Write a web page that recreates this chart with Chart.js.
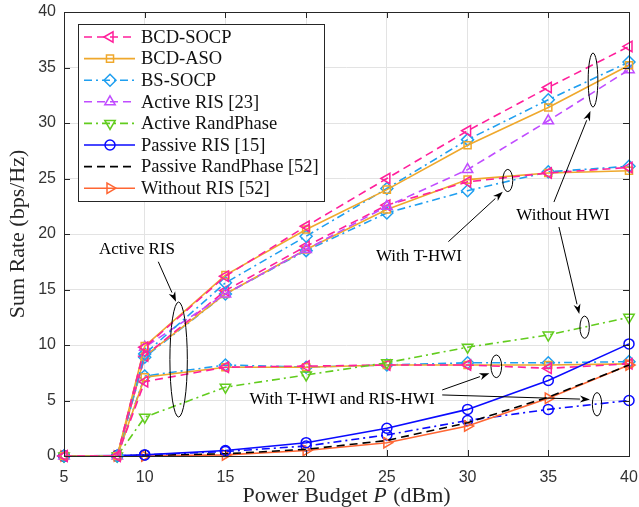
<!DOCTYPE html>
<html>
<head>
<meta charset="utf-8">
<script src="https://cdn.jsdelivr.net/npm/chart.js@4.4.1/dist/chart.umd.min.js"></script>
<style>
html, body { margin: 0; padding: 0; background: #fff; }
#wrap { width: 639px; height: 507px; }
</style>
</head>
<body>
<div id="wrap"><canvas id="c" width="639" height="507"></canvas></div>
<script>
// x positions (dBm)
var powerDbm = [5, 8.3, 10, 15, 20, 25, 30, 35, 40];

// without HWI
var bcdSocp   = [0, 0, 9.8, 16.2, 20.7, 25.0, 29.3, 33.2, 36.9];
var bcdAso    = [0, 0, 9.9, 16.3, 20.4, 24.0, 28.0, 31.4, 35.2];
var bsSocp    = [0, 0, 9.2, 15.6, 19.8, 24.1, 28.5, 32.1, 35.5];
var activeRis = [0, 0, 9.8, 14.6, 18.6, 22.5, 25.8, 30.2, 34.8];

// with T-HWI
var bcdSocpT = [0, 0, 9.0, 14.9, 18.9, 22.6, 24.7, 25.5, 26.0];
var bcdAsoT  = [0, 0, 9.0, 14.6, 18.6, 22.2, 24.9, 25.5, 25.7];
var bsSocpT  = [0, 0, 8.9, 14.6, 18.5, 21.9, 23.9, 25.6, 26.1];

// with T-HWI and RIS-HWI
var bcdSocpR = [0, 0, 6.7, 8.0, 8.1, 8.2, 8.2, 7.9, 8.3];
var bcdAsoR  = [0, 0, 7.1, 8.0, 8.0, 8.2, 8.2, 8.2, 8.3];
var bsSocpR  = [0, 0, 7.2, 8.2, 8.0, 8.2, 8.4, 8.4, 8.5];

var activeRand  = [0, 0, 3.5, 6.2, 7.3, 8.4, 9.8, 10.9, 12.5];
var passiveRis  = [0, 0.05, 0.1, 0.5, 1.2, 2.5, 4.2, 6.8, 10.1];
var passiveRisR = [0, 0, 0.1, 0.4, 0.9, 1.9, 3.2, 4.2, 5.0];
var passiveRand = [0, 0, 0.05, 0.2, 0.6, 1.4, 3.0, 5.3, 8.2];
var withoutRis  = [0, 0, 0, 0.1, 0.5, 1.2, 2.7, 5.2, 8.2];

var xMin = 5, xMax = 40, xStep = 5;
var yMin = 0, yMax = 40, yStep = 5;

// styles
var DASH = [8, 5], DASHDOT = [8, 4, 2, 4];
var S = {
    socp:  { color: "#ff1f9b", dash: DASH, pt: "triangle", rot: -90, r: 6 },
    aso:   { color: "#efa82c", dash: [], pt: "rect", rot: 0, r: 5 },
    bs:    { color: "#1f9ff0", dash: DASHDOT, pt: "rectRot", rot: 0, r: 6 },
    act:   { color: "#c04cff", dash: DASH, pt: "triangle", rot: 0, r: 6 },
    rand:  { color: "#62cc1e", dash: DASHDOT, pt: "triangle", rot: 180, r: 6 },
    pas:   { color: "#0a0aff", dash: [], pt: "circle", rot: 0, r: 5 },
    pasR:  { color: "#0a0aff", dash: DASHDOT, pt: "circle", rot: 0, r: 5 },
    prand: { color: "#000000", dash: DASH, pt: false, rot: 0, r: 0 },
    nor:   { color: "#ff6633", dash: [], pt: "triangle", rot: 90, r: 6 }
};

function ds(label, vals, st, inLegend) {
    return {
        label: label,
        data: powerDbm.map(function (x, i) { return { x: x, y: vals[i] }; }),
        borderColor: st.color,
        backgroundColor: "rgba(0,0,0,0)",
        borderWidth: 1.6,
        borderDash: st.dash,
        pointStyle: st.pt,
        pointRotation: st.rot,
        pointRadius: st.r,
        pointBorderWidth: 1.5,
        pointBorderColor: st.color,
        pointBackgroundColor: "rgba(0,0,0,0)",
        tension: 0,
        fill: false,
        clip: false,
        _legend: inLegend,
        _st: st
    };
}

var datasets = [
    ds("BCD-SOCP", bcdSocp, S.socp, true),
    ds("BCD-ASO", bcdAso, S.aso, true),
    ds("BS-SOCP", bsSocp, S.bs, true),
    ds("Active RIS [23]", activeRis, S.act, true),
    ds("Active RandPhase", activeRand, S.rand, true),
    ds("Passive RIS [15]", passiveRis, S.pas, true),
    ds("Passive RandPhase [52]", passiveRand, S.prand, true),
    ds("Without RIS [52]", withoutRis, S.nor, true),
    ds("BCD-SOCP T", bcdSocpT, S.socp, false),
    ds("BCD-ASO T", bcdAsoT, S.aso, false),
    ds("BS-SOCP T", bsSocpT, S.bs, false),
    ds("BCD-SOCP R", bcdSocpR, S.socp, false),
    ds("BCD-ASO R", bcdAsoR, S.aso, false),
    ds("BS-SOCP R", bsSocpR, S.bs, false),
    ds("Passive RIS R", passiveRisR, S.pasR, false)
];

// annotations in data units
var notes = [
    { text: "Active RIS", x: 9.52, y: 18.56 },
    { text: "With T-HWI", x: 26.99, y: 17.96 },
    { text: "Without HWI", x: 35.91, y: 21.62 },
    { text: "With T-HWI and RIS-HWI", x: 22.22, y: 5.05 }
];
var arrows = [
    [10.84, 17.5, 11.94, 13.9],
    [28.81, 19.31, 32.18, 23.81],
    [35.35, 22.88, 37.61, 31.08],
    [35.66, 20.63, 36.92, 12.79],
    [28.43, 5.95, 31.35, 7.45],
    [28.43, 5.5, 37.58, 5.1]
];
var ellipses = [
    [12.1, 8.69, 0.54, 5.18],
    [32.49, 24.82, 0.31, 1.0],
    [37.77, 33.87, 0.3, 2.43],
    [37.25, 11.6, 0.29, 1.0],
    [31.78, 8.08, 0.33, 1.02],
    [38.02, 4.66, 0.29, 1.05]
];

var SERIF = "'Liberation Serif', 'DejaVu Serif', serif";
var SANS = "'Liberation Sans', Arial, sans-serif";

function drawMarker(ctx, st, x, y) {
    if (!st.pt) return;
    ctx.fillStyle = "rgba(0,0,0,0)";
    ctx.strokeStyle = st.color;
    Chart.helpers.drawPoint(ctx, { pointStyle: st.pt, rotation: st.rot, radius: st.r, borderWidth: 1.5 }, x, y);
}

var extras = {
    id: "extras",
    afterDatasetsDraw: function (chart) {
        var ctx = chart.ctx, a = chart.chartArea, xs = chart.scales.x, ys = chart.scales.y;
        ctx.save();
        ctx.strokeStyle = "#262626";
        ctx.lineWidth = 1;
        // inward ticks
        ctx.beginPath();
        xs.ticks.forEach(function (t) {
            var p = Math.round(xs.getPixelForValue(t.value)) + 0.5;
            ctx.moveTo(p, a.bottom); ctx.lineTo(p, a.bottom - 6);
            ctx.moveTo(p, a.top); ctx.lineTo(p, a.top + 6);
        });
        ys.ticks.forEach(function (t) {
            var p = Math.round(ys.getPixelForValue(t.value)) + 0.5;
            ctx.moveTo(a.left, p); ctx.lineTo(a.left + 6, p);
            ctx.moveTo(a.right, p); ctx.lineTo(a.right - 6, p);
        });
        ctx.stroke();
        ctx.strokeRect(Math.round(a.left) + 0.5, Math.round(a.top) + 0.5, Math.round(a.right - a.left), Math.round(a.bottom - a.top));

        // ellipses
        ctx.strokeStyle = "#000"; ctx.lineWidth = 1;
        ellipses.forEach(function (e) {
            var cx = xs.getPixelForValue(e[0]), cy = ys.getPixelForValue(e[1]);
            var rx = Math.abs(xs.getPixelForValue(e[0] + e[2]) - cx);
            var ry = Math.abs(ys.getPixelForValue(e[1] + e[3]) - cy);
            ctx.beginPath(); ctx.ellipse(cx, cy, rx, ry, 0, 0, Math.PI * 2); ctx.stroke();
        });
        // arrows
        ctx.fillStyle = "#000";
        arrows.forEach(function (r) {
            var x1 = xs.getPixelForValue(r[0]), y1 = ys.getPixelForValue(r[1]);
            var x2 = xs.getPixelForValue(r[2]), y2 = ys.getPixelForValue(r[3]);
            var ang = Math.atan2(y2 - y1, x2 - x1), L = 10, W = 3.5;
            var bx = x2 - L * Math.cos(ang), by = y2 - L * Math.sin(ang);
            ctx.beginPath(); ctx.moveTo(x1, y1); ctx.lineTo(bx, by); ctx.stroke();
            ctx.beginPath();
            ctx.moveTo(x2, y2);
            ctx.lineTo(bx + W * Math.sin(ang), by - W * Math.cos(ang));
            ctx.lineTo(bx + 3 * Math.cos(ang), by + 3 * Math.sin(ang));
            ctx.lineTo(bx - W * Math.sin(ang), by + W * Math.cos(ang));
            ctx.closePath(); ctx.fill();
        });
        // notes
        ctx.font = "17px " + SERIF;
        ctx.textAlign = "center"; ctx.textBaseline = "middle";
        notes.forEach(function (n) {
            ctx.fillText(n.text, xs.getPixelForValue(n.x), ys.getPixelForValue(n.y));
        });
        ctx.restore();
    },
    afterDraw: function (chart) {
        var ctx = chart.ctx, a = chart.chartArea;
        ctx.save();
        // axis titles
        ctx.fillStyle = "#262626";
        ctx.textBaseline = "middle"; ctx.textAlign = "left";
        var p1 = "Power Budget ", p2 = "P", p3 = " (dBm)";
        ctx.font = "22px " + SERIF; var w1 = ctx.measureText(p1).width, w3 = ctx.measureText(p3).width;
        ctx.font = "italic 22px " + SERIF; var w2 = ctx.measureText(p2).width;
        var cx = (a.left + a.right) / 2, sx = cx - (w1 + w2 + w3 + 1) / 2, ty = 496;
        ctx.font = "22px " + SERIF; ctx.fillText(p1, sx, ty);
        ctx.font = "italic 22px " + SERIF; ctx.fillText(p2, sx + w1, ty);
        ctx.font = "22px " + SERIF; ctx.fillText(p3, sx + w1 + w2 + 1, ty);
        ctx.save();
        ctx.translate(18, (a.top + a.bottom) / 2);
        ctx.rotate(-Math.PI / 2);
        ctx.textAlign = "center";
        ctx.fillText("Sum Rate (bps/Hz)", 0, 0);
        ctx.restore();

        // legend
        var lx = 78.5, ly = 24.5, lw = 246, lh = 177;
        ctx.fillStyle = "#fff"; ctx.fillRect(lx, ly, lw, lh);
        ctx.strokeStyle = "#262626"; ctx.lineWidth = 1; ctx.strokeRect(lx, ly, lw, lh);
        ctx.font = "18.5px " + SERIF; ctx.textAlign = "left"; ctx.textBaseline = "middle";
        var items = chart.data.datasets.filter(function (d) { return d._legend; });
        items.forEach(function (d, i) {
            var y = 37 + i * 21.6, st = d._st;
            ctx.strokeStyle = st.color; ctx.lineWidth = 1.6;
            ctx.setLineDash(st.dash);
            ctx.beginPath(); ctx.moveTo(84, y); ctx.lineTo(135, y); ctx.stroke();
            ctx.setLineDash([]);
            ctx.lineWidth = 1.5;
            drawMarker(ctx, st, 110, y);
            ctx.fillStyle = "#111";
            ctx.fillText(d.label, 141, y + 1);
        });
        ctx.restore();
    }
};

new Chart(document.getElementById("c"), {
    type: "line",
    data: { datasets: datasets },
    options: {
        responsive: false,
        animation: false,
        layout: { padding: { left: 0, right: 10, top: 12, bottom: 0 } },
        plugins: { legend: { display: false }, tooltip: { enabled: false } },
        scales: {
            x: {
                type: "linear", min: xMin, max: xMax,
                afterFit: function (s) { s.height = 51; },
                ticks: { stepSize: xStep, color: "#333", padding: 0, font: { family: SANS, size: 16 }, maxRotation: 0 },
                grid: { color: "#e3e3e3", drawTicks: true, tickLength: 12, tickColor: "rgba(0,0,0,0)" },
                border: { display: false }
            },
            y: {
                type: "linear", min: yMin, max: yMax,
                afterFit: function (s) { s.width = 64; },
                ticks: { stepSize: yStep, color: "#333", padding: 0, font: { family: SANS, size: 16 } },
                grid: { color: "#e3e3e3", drawTicks: true, tickLength: 8, tickColor: "rgba(0,0,0,0)" },
                border: { display: false }
            }
        }
    },
    plugins: [extras]
});
</script>
</body>
</html>
